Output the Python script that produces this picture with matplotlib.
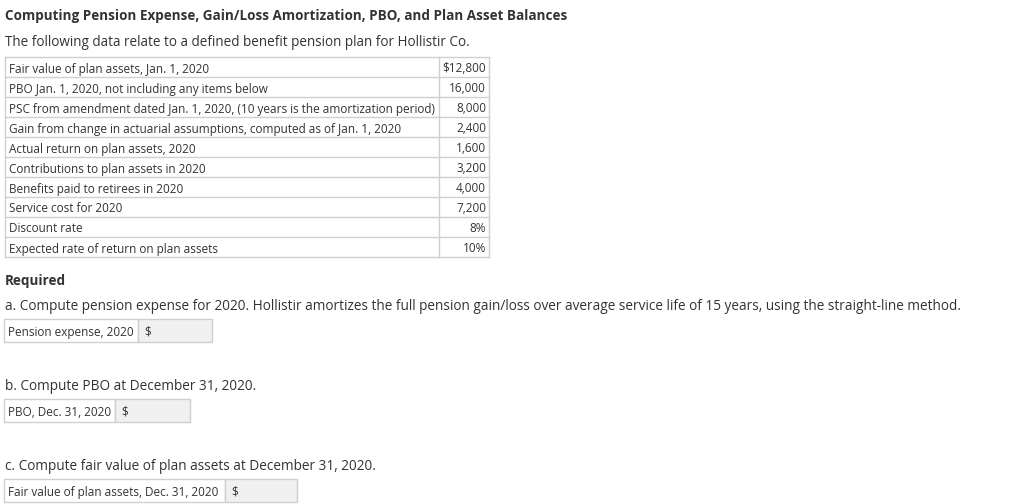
import matplotlib.pyplot as plt
from matplotlib.patches import Rectangle

plt.rcParams['font.family'] = ['Open Sans', 'DejaVu Sans']

title = "Computing Pension Expense, Gain/Loss Amortization, PBO, and Plan Asset Balances"
intro = "The following data relate to a defined benefit pension plan for Hollistir Co."

row_labels = [
    "Fair value of plan assets, Jan. 1, 2020",
    "PBO Jan. 1, 2020, not including any items below",
    "PSC from amendment dated Jan. 1, 2020, (10 years is the amortization period)",
    "Gain from change in actuarial assumptions, computed as of Jan. 1, 2020",
    "Actual return on plan assets, 2020",
    "Contributions to plan assets in 2020",
    "Benefits paid to retirees in 2020",
    "Service cost for 2020",
    "Discount rate",
    "Expected rate of return on plan assets",
]
row_values = ["$12,800", "16,000", "8,000", "2,400", "1,600", "3,200",
              "4,000", "7,200", "8%", "10%"]

questions = [
    "a. Compute pension expense for 2020. Hollistir amortizes the full pension gain/loss over average service life of 15 years, using the straight-line method.",
    "b. Compute PBO at December 31, 2020.",
    "c. Compute fair value of plan assets at December 31, 2020.",
]
answer_labels = ["Pension expense, 2020", "PBO, Dec. 31, 2020",
                 "Fair value of plan assets, Dec. 31, 2020"]

text_col = "#333333"
line_col = "#cfcfcf"

fig = plt.figure(figsize=(10.24, 5.04), dpi=100)
ax = fig.add_axes([0, 0, 1, 1])
ax.set_xlim(0, 1024)
ax.set_ylim(504, 0)
ax.axis("off")

ax.text(5, 16, title, fontsize=9.75, fontweight="bold", color=text_col, va="center")
ax.text(5, 43, intro, fontsize=9.75, color=text_col, va="center")

# data table
t_left, t_div, t_right, t_top, rh = 5, 439, 489, 57, 20
n = len(row_labels)
for i in range(n + 1):
    y = t_top + i * rh
    ax.plot([t_left, t_right], [y, y], color=line_col, lw=1)
for x in (t_left, t_div, t_right):
    ax.plot([x, x], [t_top, t_top + n * rh], color=line_col, lw=1)
for i, (lab, val) in enumerate(zip(row_labels, row_values)):
    yc = t_top + i * rh + rh / 2 + 2
    ax.text(t_left + 4, yc, lab, fontsize=8.45, color=text_col, va="center")
    ax.text(t_right - 3, yc, val, fontsize=8.45, color=text_col, va="center", ha="right")

ax.text(5, 281, "Required", fontsize=9.75, fontweight="bold", color=text_col, va="center")

# questions with answer boxes
q_y = [307, 386, 466]
box_top = [319, 399, 479]
box_div = [138, 115, 225]
box_right = [212, 190, 297]
for q, lab, qy, bt, bd, br in zip(questions, answer_labels, q_y, box_top, box_div, box_right):
    ax.text(5, qy, q, fontsize=9.8, color=text_col, va="center")
    bh = 23
    ax.add_patch(Rectangle((4, bt), bd - 4, bh, facecolor="white", edgecolor=line_col, lw=1))
    ax.add_patch(Rectangle((bd, bt), br - bd, bh, facecolor="#f0f0f0", edgecolor=line_col, lw=1))
    ax.text(8, bt + bh / 2 + 2, lab, fontsize=8.45, color=text_col, va="center")
    ax.text(bd + 6, bt + bh / 2 + 2, "$", fontsize=8.45, color=text_col, va="center")

fig.savefig("out.png", dpi=100)
